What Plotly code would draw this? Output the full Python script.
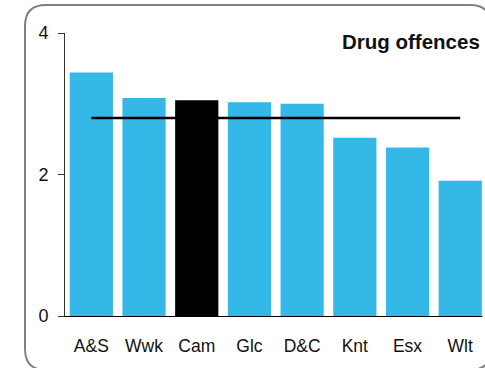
import plotly.graph_objects as go

categories = ["A&S", "Wwk", "Cam", "Glc", "D&C", "Knt", "Esx", "Wlt"]
values = [3.44, 3.08, 3.05, 3.02, 3.00, 2.52, 2.38, 1.91]
highlight = "Cam"
average_value = 2.80
y_ticks = [0, 2, 4]
title_text = "Drug offences"

W, H = 485, 368
ML, MR, MT, MB = 65, 0, 33, 52
PW, PH = W - ML - MR, H - MT - MB

BLUE = "#33B8E8"
colors = ["#000000" if c == highlight else BLUE for c in categories]

fig = go.Figure()
fig.add_trace(go.Bar(x=categories, y=values, marker=dict(color=colors, line=dict(width=0)),
                     showlegend=False, hoverinfo="skip"))
fig.add_trace(go.Scatter(x=[categories[0], categories[-1]], y=[average_value, average_value],
                         mode="lines", line=dict(color="#000000", width=2.5),
                         showlegend=False, hoverinfo="skip"))


def px(x):
    return (x - ML) / PW


def py(y):
    return (H - MB - y) / PH


# rounded border in pixel terms: top, left, bottom and corners; right side runs off the canvas
L, T, R, B, r = 25, 5, 491, 370, 21
path = (
    f"M {px(L+r)},{py(T)} L {px(R-r)},{py(T)} Q {px(R)},{py(T)} {px(R)},{py(T+r)} "
    f"M {px(R)},{py(B-r)} Q {px(R)},{py(B)} {px(R-r)},{py(B)} "
    f"L {px(L+r)},{py(B)} Q {px(L)},{py(B)} {px(L)},{py(B-r)} "
    f"L {px(L)},{py(T+r)} Q {px(L)},{py(T)} {px(L+r)},{py(T)}"
)

fig.update_layout(
    width=W, height=H,
    margin=dict(l=ML, r=MR, t=MT, b=MB, pad=0),
    paper_bgcolor="white", plot_bgcolor="white",
    bargap=0.18,
    font=dict(family="Liberation Sans, Arial, sans-serif", size=18, color="#111111"),
    shapes=[
        dict(type="path", xref="paper", yref="paper", path=path,
             line=dict(color="#808080", width=2), fillcolor="rgba(0,0,0,0)", layer="below"),
        dict(type="rect", xref="paper", yref="paper", x0=px(482.5), x1=px(490),
             y0=py(360), y1=py(20), fillcolor="white", line=dict(width=0), layer="above"),
    ],
    annotations=[dict(text=f"<b>{title_text}</b>", xref="paper", yref="paper",
                      x=1, y=py(41.7), xanchor="right", yanchor="middle", xshift=-3,
                      showarrow=False, font=dict(size=20.5, color="#111111"))],
    xaxis=dict(range=[-0.5, 7.47], showgrid=False, zeroline=False, showline=True,
               linecolor="#000000", linewidth=1, ticks="", tickfont=dict(size=17.5),
               ticklabelstandoff=14, fixedrange=True),
    yaxis=dict(range=[0, 4], tickvals=y_ticks, showgrid=False, zeroline=False, showline=True,
               linecolor="#333333", linewidth=1, ticks="outside", ticklen=6,
               tickcolor="#333333", tickwidth=1, tickfont=dict(size=18),
               ticklabelstandoff=6, fixedrange=True),
)

fig.write_html("out.html", config={"displayModeBar": False},
               post_script=("document.documentElement.style.overflow='hidden';"
                            "document.body.style.overflow='hidden';"
                            "document.body.style.margin='0';document.body.style.padding='0';"))
